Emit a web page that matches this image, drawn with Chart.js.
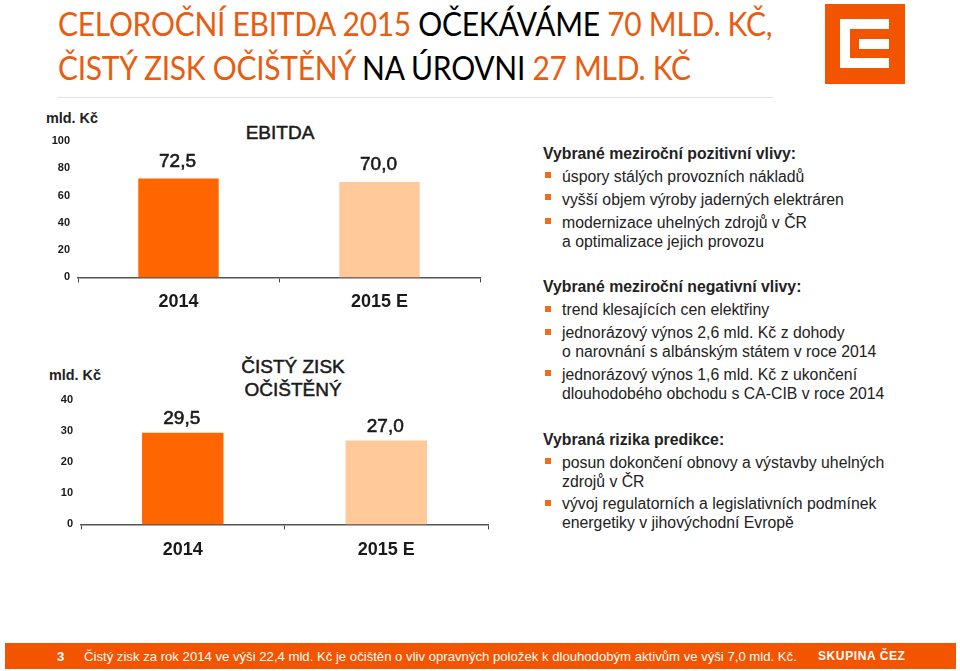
<!DOCTYPE html>
<html lang="cs">
<head>
<meta charset="utf-8">
<title>EBITDA a čistý zisk</title>
<script src="https://cdn.jsdelivr.net/npm/chart.js@4"></script>
<style>
  html, body { margin: 0; padding: 0; background: #fff; }
  body { position: relative; width: 960px; height: 671px; overflow: hidden; font-family: "Liberation Sans", Arial, sans-serif; color: #1a1a1a; }
  .abs { position: absolute; white-space: nowrap; }
  canvas { position: absolute; }
  .head { left: 58px; top: 2px; font-family: Lato, sans-serif; font-size: 32px; line-height: 44px; letter-spacing: -0.3px; color: #e85d10; transform: scaleX(0.937); transform-origin: left top; }
  .head span { color: #000; }
  .rule { left: 57px; top: 97px; width: 716px; height: 1px; background: #e2e2e2; }
  .unit { font-size: 14.4px; font-weight: bold; color: #222; }
  .ctitle { font-size: 19px; line-height: 22.5px; text-align: center; transform: translateX(-50%); -webkit-text-stroke: 0.5px #1a1a1a; }
  .txt { left: 543px; font-size: 15.8px; line-height: 19px; color: #222; }
  .txt.b { font-weight: bold; }
  .li { left: 562px; }
  .sq { position: absolute; left: 545px; width: 6px; height: 6px; background: #f26a1b; }
  .logo { left: 825px; top: 4px; }
  .foot { left: 5px; top: 643px; width: 951px; height: 26px; background: #f25400; }
  .foot div { position: absolute; top: 6px; color: #fff; font-size: 13.15px; line-height: 15px; white-space: nowrap; }
</style>
</head>
<body>
<div class="abs head">CELOROČNÍ EBITDA 2015 <span>OČEKÁVÁME</span> 70 MLD. KČ,<br>ČISTÝ ZISK OČIŠTĚNÝ <span>NA ÚROVNI</span> 27 MLD. KČ</div>
<div class="abs rule"></div>
<svg class="abs logo" width="80" height="80" viewBox="0 0 80 80">
  <rect width="80" height="80" fill="#f25400"/>
  <rect x="15" y="15" width="49" height="49" fill="#fff"/>
  <rect x="25" y="25" width="39" height="29" fill="#f25400"/>
  <rect x="34" y="35" width="30" height="10" fill="#fff"/>
</svg>

<div class="abs unit" style="left:46px;top:110px">mld. Kč</div>
<div class="abs ctitle" style="left:280px;top:122px">EBITDA</div>
<canvas id="ebitdaChart" width="500" height="220" style="left:0;top:110px"></canvas>

<div class="abs unit" style="left:49px;top:367px">mld. Kč</div>
<div class="abs ctitle" style="left:293px;top:356px">ČISTÝ ZISK<br>OČIŠTĚNÝ</div>
<canvas id="ziskChart" width="500" height="205" style="left:0;top:370px"></canvas>

<div class="abs txt b" style="top:144px">Vybrané meziroční pozitivní vlivy:</div>
<div class="sq" style="top:172px"></div><div class="abs txt li" style="top:167px">úspory stálých provozních nákladů</div>
<div class="sq" style="top:194px"></div><div class="abs txt li" style="top:190px">vyšší objem výroby jaderných elektráren</div>
<div class="sq" style="top:218px"></div><div class="abs txt li" style="top:213px">modernizace uhelných zdrojů v ČR<br>a optimalizace jejich provozu</div>

<div class="abs txt b" style="top:277px">Vybrané meziroční negativní vlivy:</div>
<div class="sq" style="top:306px"></div><div class="abs txt li" style="top:300px">trend klesajících cen elektřiny</div>
<div class="sq" style="top:329px"></div><div class="abs txt li" style="top:323px">jednorázový výnos 2,6 mld. Kč z dohody<br>o narovnání s albánským státem v roce 2014</div>
<div class="sq" style="top:370px"></div><div class="abs txt li" style="top:365px">jednorázový výnos 1,6 mld. Kč z ukončení<br>dlouhodobého obchodu s CA-CIB v roce 2014</div>

<div class="abs txt b" style="top:430px">Vybraná rizika predikce:</div>
<div class="sq" style="top:458px"></div><div class="abs txt li" style="top:453px">posun dokončení obnovy a výstavby uhelných<br>zdrojů v ČR</div>
<div class="sq" style="top:500px"></div><div class="abs txt li" style="top:494px">vývoj regulatorních a legislativních podmínek<br>energetiky v jihovýchodní Evropě</div>

<div class="abs foot">
  <div style="left:52px;font-weight:bold">3</div>
  <div style="left:79px">Čistý zisk za rok 2014 ve výši 22,4 mld. Kč je očištěn o vliv opravných položek k dlouhodobým aktivům ve výši 7,0 mld. Kč.</div>
  <div style="left:813px;font-size:12px;font-weight:bold;letter-spacing:0.6px">SKUPINA ČEZ</div>
</div>

<script>
const years = ["2014", "2015 E"];
const ebitdaValues = [72.5, 70.0];
const ziskValues = [29.5, 27.0];
const ebitdaTicks = [0, 20, 40, 60, 80, 100];
const ziskTicks = [0, 10, 20, 30, 40];
const barColors = ["#ff6600", "#ffc999"];

//writes the value above each bar, with a decimal comma
const valueLabels = {
  id: "valueLabels",
  afterDatasetsDraw(chart, args, opts) {
    const ctx = chart.ctx;
    const meta = chart.getDatasetMeta(0);
    ctx.save();
    ctx.font = "19px 'Liberation Sans'";
    ctx.fillStyle = "#1a1a1a";
    ctx.strokeStyle = "#1a1a1a";
    ctx.lineWidth = 0.6;
    ctx.textAlign = "center";
    ctx.textBaseline = "middle";
    meta.data.forEach(function (bar, i) {
      const txt = chart.data.datasets[0].data[i].toFixed(1).replace(".", ",");
      ctx.fillText(txt, bar.x - 1, bar.y - opts.gap);
      ctx.strokeText(txt, bar.x - 1, bar.y - opts.gap);
    });
    ctx.restore();
  },
};

var makeChart = function (id, values, ticks, maxValue, pad, gap, labelPad) {
  return new Chart(document.getElementById(id), {
    type: "bar",
    data: {
      labels: years,
      datasets: [{ data: values, backgroundColor: barColors, barPercentage: 0.4, categoryPercentage: 1 }],
    },
    plugins: [valueLabels],
    options: {
      responsive: false,
      animation: false,
      layout: { padding: pad },
      plugins: { legend: { display: false }, tooltip: { enabled: false }, valueLabels: { gap: gap } },
      scales: {
        x: {
          grid: { drawOnChartArea: false, offset: true, color: "#444", tickLength: 5, lineWidth: 1 },
          border: { color: "#555", width: 1.5 },
          ticks: { color: "#1a1a1a", font: { family: "Liberation Sans", size: 18, weight: "bold" }, padding: labelPad, maxRotation: 0 },
        },
        y: {
          min: 0,
          max: maxValue,
          afterBuildTicks(scale) {
            scale.ticks = ticks.map(function (v) { return { value: v }; });
          },
          afterFit(scale) {
            scale.width = 78;
          },
          grid: { display: false },
          border: { display: false },
          ticks: { color: "#1a1a1a", font: { family: "Liberation Sans", size: 11, weight: "bold" }, padding: 0 },
        },
      },
    },
  });
};

const ebitdaChart = makeChart("ebitdaChart", ebitdaValues, ebitdaTicks, 100, { left: 0, right: 20, top: 31, bottom: 8 }, 17, 9);
const ziskChart = makeChart("ziskChart", ziskValues, ziskTicks, 40, { left: 3, right: 12, top: 30, bottom: 4 }, 14, 10);
</script>
</body>
</html>
